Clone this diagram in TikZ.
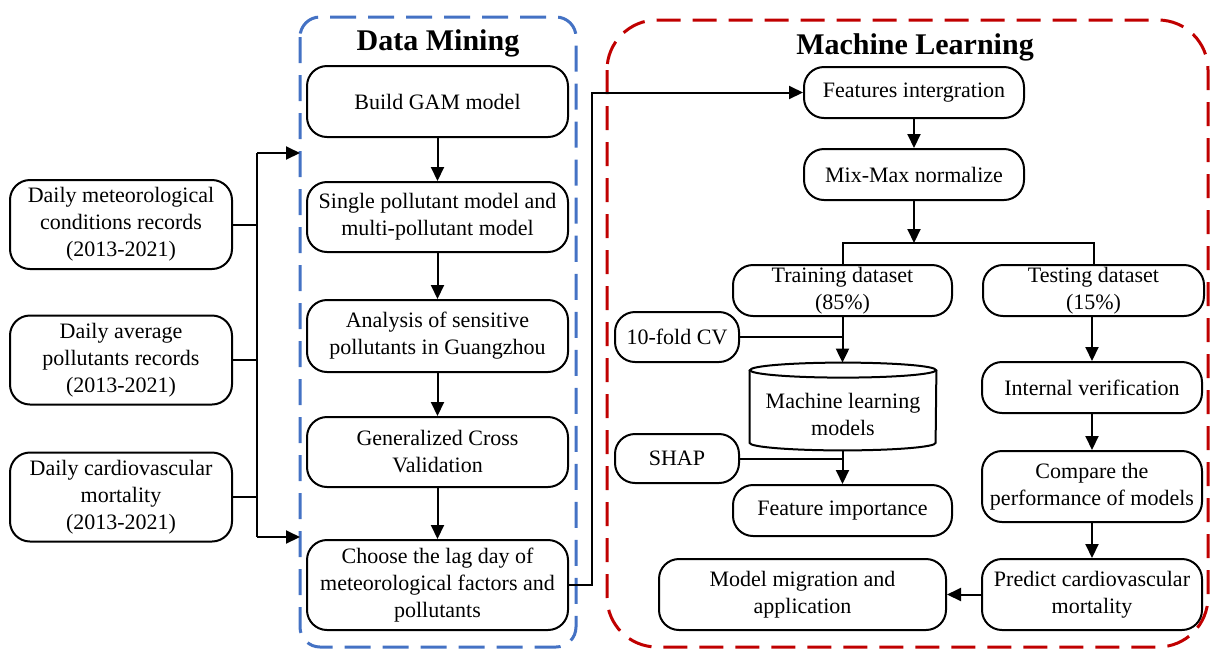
\documentclass[tikz,border=0pt]{standalone}
\usepackage{fontspec}
\setmainfont{Liberation Serif}
\usetikzlibrary{arrows.meta,calc}
\definecolor{dmblue}{HTML}{4472C4}
\definecolor{mlred}{HTML}{C00000}
\begin{document}
\begin{tikzpicture}[x=0.5pt,y=-0.5pt,
  box/.style={draw,line width=1pt,rounded corners=10pt,align=center,inner sep=1pt,
    font=\fontsize{11}{13.5}\selectfont},
  inbox/.style={box,minimum width=111pt,minimum height=44.5pt},
  dmbox/.style={box,minimum width=130.5pt},
  mlbox/.style={box,minimum width=110pt,minimum height=25.5pt},
  sidebox/.style={box,minimum width=62pt,minimum height=25pt},
  arr/.style={line width=1pt,-{Triangle[length=7pt,width=6.5pt]}},
  ln/.style={line width=1pt},
  title/.style={font=\bfseries\fontsize{15}{18}\selectfont},
  bluedash/.style={draw=dmblue,line width=1.5pt,dash pattern=on 13pt off 6pt,rounded corners=10pt},
  reddash/.style={draw=mlred,line width=1.5pt,dash pattern=on 12pt off 6pt,rounded corners=25pt}
]
\useasboundingbox (0,0) rectangle (1211,650);

% dashed frames
\draw[bluedash] (300,17) rectangle (576,647);
\draw[reddash] (607,20) rectangle (1208,647);

% titles
\node[title] (dmt) at (438,43) {Data Mining};
\node[title] (mlt) at (915,47) {Machine Learning};

% inputs
\node[inbox] (m1) at (121,224.5) {Daily meteorological\\conditions records\\(2013-2021)};
\node[inbox] (m2) at (121,360) {Daily average\\pollutants records\\(2013-2021)};
\node[inbox] (m3) at (121,497) {Daily cardiovascular\\mortality\\(2013-2021)};

% data mining
\node[dmbox,minimum height=35.5pt] (gam) at (437.5,101.5) {Build GAM model};
\node[dmbox,minimum height=35pt] (spm) at (437.5,217) {Single pollutant model and\\multi-pollutant model};
\node[dmbox,minimum height=36pt] (ana) at (437.5,336) {Analysis of sensitive\\pollutants in Guangzhou};
\node[dmbox,minimum height=35pt] (gcv) at (437.5,452) {Generalized Cross\\Validation};
\node[dmbox,minimum height=45pt] (lag) at (437.5,585) {Choose the lag day of\\meteorological factors and\\pollutants};

% machine learning
\node[mlbox] (feat) at (914,92.5) {Features intergration};
\node[mlbox] (mix) at (914,174.5) {Mix-Max normalize};
\node[mlbox,minimum width=109.5pt] (train) at (842.5,290.5) {Training dataset\\(85\%)};
\node[mlbox,minimum width=110.5pt] (test) at (1093.5,290.5) {Testing dataset\\(15\%)};
\node[sidebox] (cv) at (677,337) {10-fold CV};
\node[align=center,minimum width=93pt,minimum height=43.5pt,inner sep=0pt,
  font=\fontsize{11}{13.5}\selectfont] (ml) at (843,406.5) {\\[2.5pt]Machine learning\\models};
\node[sidebox,minimum height=24.5pt] (shap) at (677,458.5) {SHAP};
\node[mlbox,minimum width=109.5pt] (fi) at (842.5,510.5) {Feature importance};
\node[mlbox] (iv) at (1092,387.5) {Internal verification};
\node[mlbox,minimum height=35.5pt] (cmp) at (1092,486.5) {Compare the\\performance of models};
\node[mlbox,minimum height=35.5pt] (pred) at (1092,594.5) {Predict cardiovascular\\mortality};
\node[mlbox,minimum width=143.5pt,minimum height=35.5pt] (mig) at (802.5,594.5) {Model migration and\\application};

% cylinder outline
\draw[line width=1pt] ($(ml.north)+(0,-3.75pt)$) ellipse [x radius=46.5pt,y radius=3.75pt];
\draw[line width=1pt] ($(ml.north west)+(0,-3.75pt)$) -- ($(ml.south west)+(0,3.75pt)$)
  arc [start angle=180,end angle=360,x radius=46.5pt,y radius=3.75pt]
  -- ($(ml.north east)+(0,-3.75pt)$);

% input bus
\coordinate (bt) at (257,153);
\coordinate (bb) at (257,537);
\coordinate (tt) at (300,153);
\coordinate (tb) at (300,537);
\draw[ln] (bt) -- (bb);
\draw[ln] (m1.east) -- (m1.east -| bt);
\draw[ln] (m2.east) -- (m2.east -| bt);
\draw[ln] (m3.east) -- (m3.east -| bt);
\draw[arr] (bt) -- (tt);
\draw[arr] (bb) -- (tb);

% data mining chain
\draw[arr] (gam) -- (spm);
\draw[arr] (spm) -- (ana);
\draw[arr] (ana) -- (gcv);
\draw[arr] (gcv) -- (lag);

% to machine learning
\coordinate (bend) at (592,0);
\draw[arr] (lag.east) -- (lag.east -| bend) -- (bend |- feat.west) -- (feat.west);

% ML chain
\draw[arr] (feat) -- (mix);
\coordinate (split) at (914,243);
\draw[arr] (mix.south) -- (split);
\draw[ln] (train.north) -- (train.north |- split) -- (test.north |- split) -- (test.north);
\draw[arr] (train.south) -- (ml.north -| train.south);
\draw[ln] (cv.east) -- (cv.east -| train.south);
\draw[arr] (ml.south -| fi.north) -- (fi.north);
\draw[ln] (shap.east) -- (shap.east -| fi.north);
\draw[arr] (test.south -| iv.north) -- (iv.north);
\draw[arr] (iv) -- (cmp);
\draw[arr] (cmp) -- (pred);
\draw[arr] (pred) -- (mig);
\end{tikzpicture}
\end{document}
